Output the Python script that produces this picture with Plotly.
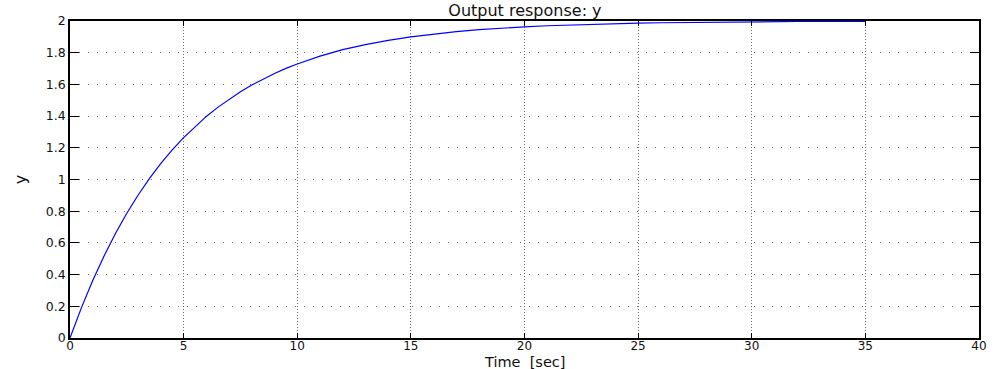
import plotly.graph_objects as go

t = [0, 0.5, 1, 1.5, 2, 2.5, 3, 3.5, 4, 4.5, 5, 5.5, 6, 6.5, 7, 7.5, 8, 8.5, 9, 9.5,
     10, 11, 12, 13, 14, 15, 16, 17, 18, 19, 20, 21, 22, 23, 24, 25, 26, 27, 28, 29,
     30, 31, 32, 33, 34, 35]
y = [0, 0.190, 0.363, 0.518, 0.659, 0.787, 0.902, 1.007, 1.101, 1.187, 1.264, 1.334,
     1.398, 1.455, 1.507, 1.554, 1.596, 1.634, 1.669, 1.701, 1.729, 1.778, 1.819, 1.851,
     1.878, 1.900, 1.918, 1.933, 1.945, 1.955, 1.963, 1.970, 1.975, 1.980, 1.984, 1.987,
     1.989, 1.991, 1.993, 1.994, 1.995, 1.996, 1.997, 1.997, 1.998, 1.998]

x_ticks = [0, 5, 10, 15, 20, 25, 30, 35, 40]
y_ticks = [0, 0.2, 0.4, 0.6, 0.8, 1, 1.2, 1.4, 1.6, 1.8, 2]
y_tick_labels = ["0", "0.2", "0.4", "0.6", "0.8", "1", "1.2", "1.4", "1.6", "1.8", "2"]

title_text = "Output response: y"
x_label = "Time\u00a0 [sec]"
y_label = "y"

font = "DejaVu Sans, Liberation Sans, Arial, sans-serif"

fig = go.Figure()
fig.add_trace(go.Scatter(x=t, y=y, mode="lines", line=dict(color="#0000ff", width=1.2),
                         showlegend=False, cliponaxis=True, hoverinfo="skip"))

axis_common = dict(
    showline=True, linecolor="black", linewidth=1.5, mirror="ticks",
    ticks="inside", tickcolor="black", tickwidth=1,
    showgrid=True, gridcolor="rgba(60,60,60,0.75)", gridwidth=1,
    zeroline=False, automargin=False,
    tickfont=dict(family=font, size=12.5, color="#111"),
)

fig.update_xaxes(range=[0, 40], tickvals=x_ticks, ticktext=[str(v) for v in x_ticks],
                 ticklen=5, griddash="1px,2px", ticklabelstandoff=-4,
                 **{**axis_common, "tickfont": dict(family=font, size=12, color="#111")})
fig.update_yaxes(range=[0, 2], tickvals=y_ticks, ticktext=y_tick_labels,
                 ticklen=9, griddash="1px,8px", **axis_common)

fig.add_annotation(text=x_label, xref="paper", yref="paper", x=0.5, y=-0.076,
                   xanchor="center", yanchor="middle", showarrow=False,
                   font=dict(family=font, size=14.5, color="#111"))
fig.add_annotation(text=y_label, xref="paper", yref="paper", x=-0.055, y=0.498,
                   xanchor="center", yanchor="middle", showarrow=False, textangle=-90,
                   font=dict(family=font, size=16, color="#111"))

fig.update_layout(
    width=998, height=369,
    margin=dict(l=70, r=19, t=21, b=31),
    paper_bgcolor="white", plot_bgcolor="white",
    title=dict(text=title_text, x=0.526, xanchor="center", y=0.972, yanchor="middle",
               font=dict(family=font, size=16, color="#111")),
)

fig.write_html("out.html", config={"displayModeBar": False},
               post_script="document.body.style.margin='0';document.body.style.overflow='hidden';")
